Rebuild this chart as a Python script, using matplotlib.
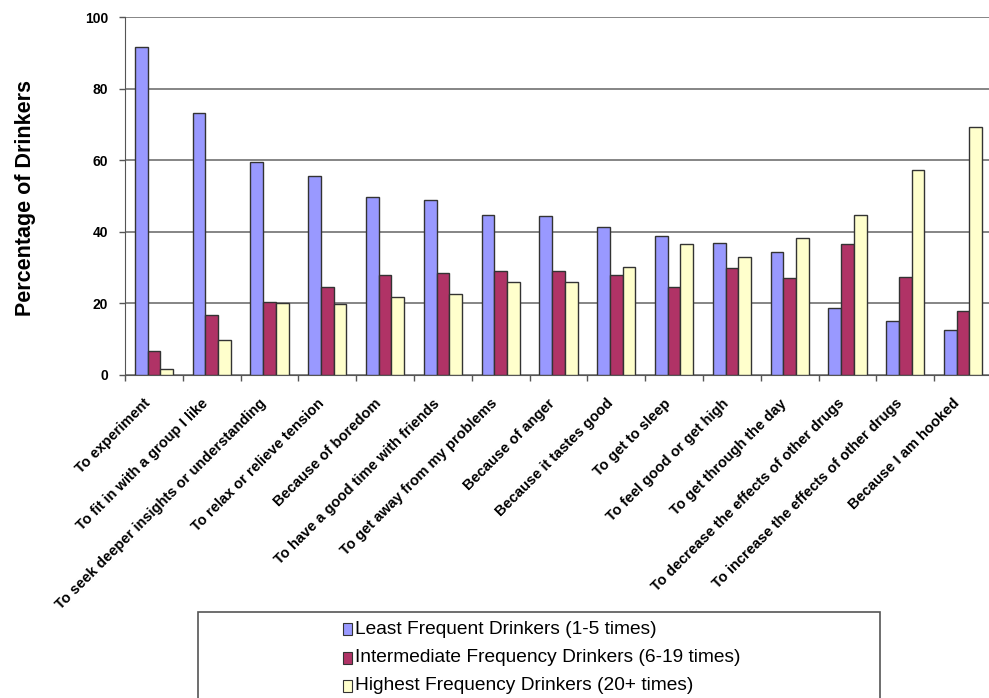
import numpy as np
import matplotlib
matplotlib.use('Agg')
import matplotlib.pyplot as plt
from matplotlib.patches import Rectangle

plt.rcParams['font.family'] = ['Liberation Sans', 'DejaVu Sans']

reasons = ['To experiment', 'To fit in with a group I like',
           'To seek deeper insights or understanding', 'To relax or relieve tension',
           'Because of boredom', 'To have a good time with friends',
           'To get away from my problems', 'Because of anger', 'Because it tastes good',
           'To get to sleep', 'To feel good or get high', 'To get through the day',
           'To decrease the effects of other drugs', 'To increase the effects of other drugs',
           'Because I am hooked']
least = [91.5, 73.1, 59.6, 55.5, 49.8, 48.9, 44.7, 44.5, 41.4, 38.8, 37.0, 34.4, 18.8, 15.1, 12.6]
intermediate = [6.6, 16.8, 20.4, 24.5, 28.0, 28.6, 29.1, 29.1, 28.0, 24.5, 29.8, 27.0, 36.5, 27.5, 17.9]
highest = [1.6, 9.8, 20.0, 19.8, 21.9, 22.6, 25.9, 25.9, 30.3, 36.5, 33.0, 38.4, 44.7, 57.4, 69.2]
series_names = ['Least Frequent Drinkers (1-5 times)',
                'Intermediate Frequency Drinkers (6-19 times)',
                'Highest Frequency Drinkers (20+ times)']
colors = ['#9999ff', '#b03366', '#ffffcc']

fig = plt.figure(figsize=(9.89, 6.98), dpi=100)
ax = fig.add_axes([0.1264, 0.4628, 0.8766, 0.5128])

x = np.arange(len(reasons))
w = 0.22
for i, (vals, col) in enumerate(zip([least, intermediate, highest], colors)):
    ax.bar(x + (i - 1) * w, vals, w, color=col, edgecolor='#333333', linewidth=1.0, zorder=3)

ax.set_xlim(-0.5, len(reasons) - 0.5)
ax.set_ylim(0, 100)
ax.set_yticks([0, 20, 40, 60, 80, 100])
ax.yaxis.grid(True, color='#858585', linewidth=1.4, zorder=0)
for s in ['top', 'right']:
    ax.spines[s].set_visible(False)
ax.spines['left'].set_color('#555555')
ax.spines['bottom'].set_color('#555555')
ax.tick_params(axis='y', length=4, width=1, color='#555555', pad=8, labelsize=10)
for t in ax.get_yticklabels():
    t.set_fontweight('bold')

# category ticks sit on group boundaries
ax.set_xticks(np.arange(len(reasons) + 1) - 0.5)
ax.set_xticklabels([])
ax.tick_params(axis='x', length=4, width=1, color='#555555')
for xi, lab in zip(x, reasons):
    ax.annotate(lab, xy=(xi, 0), xycoords=('data', 'axes fraction'),
                xytext=(-4, -19), textcoords='offset points',
                rotation=45, ha='right', va='center', rotation_mode='anchor',
                fontsize=10.5, fontweight='bold')

fig.text(0.026, 0.716, 'Percentage of Drinkers', rotation=90, ha='center', va='center',
         fontsize=15.5, fontweight='bold')

# legend box (runs off the bottom of the picture)
fig.patches.append(Rectangle((198 / 989, -0.02), (880 - 198) / 989, (698 - 612) / 698 + 0.02,
                             transform=fig.transFigure, facecolor='white',
                             edgecolor='#555555', linewidth=1.2))
row_y = [629, 658, 686]
for name, col, yy in zip(series_names, colors, row_y):
    yf = 1 - yy / 698
    fig.patches.append(Rectangle((343 / 989, yf - 6 / 698), 9 / 989, 12 / 698,
                                 transform=fig.transFigure, facecolor=col,
                                 edgecolor='#333333', linewidth=0.8))
    fig.text(355 / 989, yf, name, ha='left', va='center', fontsize=13.8)

fig.savefig('out.png', dpi=100)
